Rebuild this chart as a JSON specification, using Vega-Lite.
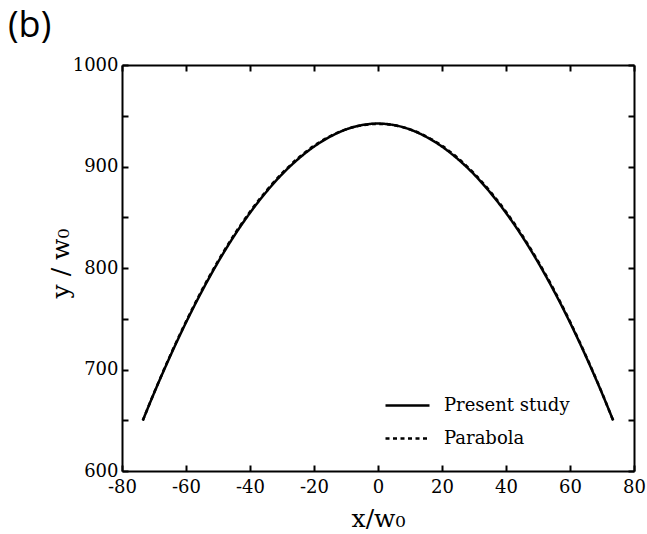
{
  "$schema": "https://vega.github.io/schema/vega-lite/v6.json",
  "width": 512,
  "height": 406,
  "autosize": {"type": "none"},
  "padding": {"left": 122, "top": 65, "right": 13, "bottom": 63},
  "background": "white",
  "title": {"text": "(b)", "anchor": "start", "frame": "group", "font": "Open Sans", "fontSize": 36, "fontWeight": "normal", "color": "black", "dx": -114, "offset": 11},
  "config": {
    "view": {"stroke": null},
    "axis": {
      "domainColor": "black", "domainWidth": 2, "tickColor": "black", "tickWidth": 2, "tickSize": -6,
      "labelFont": "DejaVu Serif", "labelFontSize": 18, "labelColor": "black", "labelFlush": false, "labelOverlap": false,
      "titleFont": "DejaVu Serif", "titleFontSize": 25, "titleFontWeight": "normal", "titleColor": "black",
      "grid": false
    }
  },
  "data": {"values": [
    {"series": "Parabola", "x": -73.5, "y": 649.7},
    {"series": "Parabola", "x": -70, "y": 676.9},
    {"series": "Parabola", "x": -65, "y": 713.4},
    {"series": "Parabola", "x": -60, "y": 747.2},
    {"series": "Parabola", "x": -55, "y": 778.4},
    {"series": "Parabola", "x": -50, "y": 806.8},
    {"series": "Parabola", "x": -45, "y": 832.5},
    {"series": "Parabola", "x": -40, "y": 855.4},
    {"series": "Parabola", "x": -35, "y": 875.7},
    {"series": "Parabola", "x": -30, "y": 893.3},
    {"series": "Parabola", "x": -25, "y": 908.2},
    {"series": "Parabola", "x": -20, "y": 920.4},
    {"series": "Parabola", "x": -15, "y": 929.8},
    {"series": "Parabola", "x": -10, "y": 936.6},
    {"series": "Parabola", "x": -5, "y": 940.6},
    {"series": "Parabola", "x": 0, "y": 942},
    {"series": "Parabola", "x": 5, "y": 940.6},
    {"series": "Parabola", "x": 10, "y": 936.6},
    {"series": "Parabola", "x": 15, "y": 929.8},
    {"series": "Parabola", "x": 20, "y": 920.4},
    {"series": "Parabola", "x": 25, "y": 908.2},
    {"series": "Parabola", "x": 30, "y": 893.3},
    {"series": "Parabola", "x": 35, "y": 875.7},
    {"series": "Parabola", "x": 40, "y": 855.4},
    {"series": "Parabola", "x": 45, "y": 832.5},
    {"series": "Parabola", "x": 50, "y": 806.8},
    {"series": "Parabola", "x": 55, "y": 778.4},
    {"series": "Parabola", "x": 60, "y": 747.2},
    {"series": "Parabola", "x": 65, "y": 713.4},
    {"series": "Parabola", "x": 70, "y": 676.9},
    {"series": "Parabola", "x": 73.5, "y": 649.7},
    {"series": "Present study", "x": -73.5, "y": 649.8},
    {"series": "Present study", "x": -70, "y": 676.6},
    {"series": "Present study", "x": -65, "y": 712.7},
    {"series": "Present study", "x": -60, "y": 746.3},
    {"series": "Present study", "x": -55, "y": 777.3},
    {"series": "Present study", "x": -50, "y": 805.7},
    {"series": "Present study", "x": -45, "y": 831.4},
    {"series": "Present study", "x": -40, "y": 854.3},
    {"series": "Present study", "x": -35, "y": 874.6},
    {"series": "Present study", "x": -30, "y": 892.3},
    {"series": "Present study", "x": -25, "y": 907.2},
    {"series": "Present study", "x": -20, "y": 919.6},
    {"series": "Present study", "x": -15, "y": 929.3},
    {"series": "Present study", "x": -10, "y": 936.5},
    {"series": "Present study", "x": -5, "y": 940.8},
    {"series": "Present study", "x": 0, "y": 942.3},
    {"series": "Present study", "x": 5, "y": 940.8},
    {"series": "Present study", "x": 10, "y": 936.5},
    {"series": "Present study", "x": 15, "y": 929.3},
    {"series": "Present study", "x": 20, "y": 919.6},
    {"series": "Present study", "x": 25, "y": 907.2},
    {"series": "Present study", "x": 30, "y": 892.3},
    {"series": "Present study", "x": 35, "y": 874.6},
    {"series": "Present study", "x": 40, "y": 854.3},
    {"series": "Present study", "x": 45, "y": 831.4},
    {"series": "Present study", "x": 50, "y": 805.7},
    {"series": "Present study", "x": 55, "y": 777.3},
    {"series": "Present study", "x": 60, "y": 746.3},
    {"series": "Present study", "x": 65, "y": 712.7},
    {"series": "Present study", "x": 70, "y": 676.6},
    {"series": "Present study", "x": 73.5, "y": 649.8}
  ]},
  "layer": [
    {
      "mark": {"type": "line", "interpolate": "monotone", "strokeWidth": 2.5, "color": "black"},
      "encoding": {
        "x": {"field": "x", "type": "quantitative", "scale": {"domain": [-80, 80], "nice": false},
          "axis": {"orient": "bottom", "values": [-80, -60, -40, -20, 0, 20, 40, 60, 80], "labelExpr": "'' + datum.value", "title": "x/w₀", "labelPadding": 13, "titleY": 55, "titleBaseline": "alphabetic"}},
        "y": {"field": "y", "type": "quantitative", "scale": {"domain": [600, 1000], "nice": false, "zero": false},
          "axis": {"orient": "left", "values": [600, 650, 700, 750, 800, 850, 900, 950, 1000], "labelExpr": "datum.value % 100 === 0 ? '' + datum.value : ''", "labelPadding": 10, "title": "y  /  w₀", "titleX": -49, "titleY": 198, "titleAngle": -90, "titleAlign": "center", "titleBaseline": "bottom"}},
        "strokeDash": {"field": "series", "type": "nominal",
          "scale": {"domain": ["Present study", "Parabola"], "range": [[1, 0], [4, 3.5]]},
          "legend": {"title": null, "orient": "none", "legendX": 262, "legendY": 317, "symbolType": "stroke", "symbolSize": 1936, "symbolStrokeWidth": 2.5, "symbolStrokeColor": "black", "labelFont": "DejaVu Serif", "labelFontSize": 18, "labelColor": "black", "labelOffset": 13, "rowPadding": 0, "padding": 0}}
      }
    },
    {
      "mark": {"type": "line", "opacity": 0},
      "encoding": {
        "x": {"field": "x", "type": "quantitative", "scale": {"domain": [-80, 80], "nice": false},
          "axis": {"orient": "top", "values": [-80, -60, -40, -20, 0, 20, 40, 60, 80], "labels": false, "title": null}},
        "y": {"field": "y", "type": "quantitative", "scale": {"domain": [600, 1000], "nice": false, "zero": false},
          "axis": {"orient": "right", "values": [600, 650, 700, 750, 800, 850, 900, 950, 1000], "labels": false, "title": null}},
        "detail": {"field": "series"}
      }
    }
  ],
  "resolve": {"axis": {"x": "independent", "y": "independent"}}
}
